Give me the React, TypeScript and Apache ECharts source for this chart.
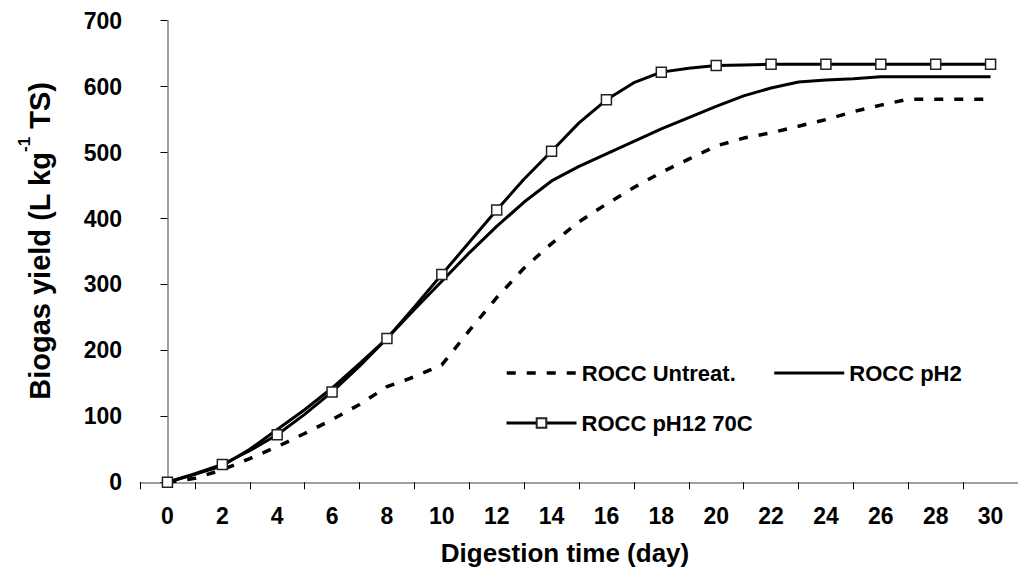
import React, { useEffect, useRef } from "react";
import * as echarts from "echarts";

const tickLabels = ["0", "2", "4", "6", "8", "10", "12", "14", "16", "18", "20", "22", "24", "26", "28", "30"];
const days = [0, 1, 2, 3, 4, 5, 6, 7, 8, 9, 10, 11, 12, 13, 14, 15, 16, 17, 18, 19, 20, 21, 22, 23, 24, 25, 26, 27, 28, 29, 30];
const untreated = [0, 6, 19, 36, 54, 74, 95, 118, 145, 160, 178, 230, 280, 325, 362, 395, 422, 447, 470, 490, 510, 522, 530, 540, 550, 562, 572, 581, 581, 581, 581];
const ph2 = [0, 12, 25, 50, 80, 110, 143, 180, 218, 262, 305, 348, 388, 425, 457, 479, 498, 517, 536, 553, 570, 586, 598, 607, 610, 612, 615, 615, 615, 615, 615];
const ph12 = [0, 13, 27, 48, 72, 103, 137, 176, 218, 266, 315, 364, 413, 460, 502, 545, 580, 606, 622, 628, 632, 633, 634, 634, 634, 634, 634, 634, 634, 634, 634];

const FONT = '"Liberation Sans", Arial, sans-serif';

export default function App() {
  const ref = useRef<HTMLDivElement>(null);
  useEffect(() => {
    const chart = echarts.init(ref.current!, null, { renderer: "svg" });
    const pair = (arr: number[]) => days.map((d, i) => [d, arr[i]]);
    const legendText = { color: "#000", fontSize: 22, fontWeight: "bold", fontFamily: FONT };
    chart.setOption({
      animation: false,
      backgroundColor: "#fff",
      grid: { left: 140, right: -11, top: 20.7, bottom: 92.7 },
      xAxis: [
        {
          type: "category",
          data: tickLabels,
          boundaryGap: true,
          axisLine: { lineStyle: { color: "#808080", width: 1.5 } },
          axisTick: { show: true, length: 7, alignWithLabel: false, lineStyle: { color: "#000", width: 1 } },
          axisLabel: { color: "#000", fontSize: 23, fontWeight: "bold", fontFamily: FONT, margin: 22, interval: 0 },
          splitLine: { show: false },
        },
        {
          type: "value",
          min: -1,
          max: 31,
          show: false,
          splitLine: { show: false },
        },
      ],
      yAxis: {
        type: "value",
        min: 0,
        max: 700,
        interval: 100,
        axisLine: { show: true, lineStyle: { color: "#808080", width: 1.5 } },
        axisTick: { show: true, length: 7, lineStyle: { color: "#000", width: 1 } },
        axisLabel: { color: "#000", fontSize: 23, fontWeight: "bold", fontFamily: FONT, margin: 18 },
        splitLine: { show: false },
      },
      legend: [
        {
          data: [
            { name: "ROCC Untreat.", itemStyle: { opacity: 0 }, lineStyle: { width: 3.5 } },
            { name: "ROCC pH2", itemStyle: { opacity: 0 }, lineStyle: { width: 3 } },
          ],
          left: 505,
          top: 362,
          padding: 0,
          itemWidth: 70,
          itemHeight: 12,
          itemGap: 37,
          lineStyle: { width: 3 },
          textStyle: legendText,
        },
        {
          data: ["ROCC pH12 70C"],
          left: 505,
          top: 412,
          padding: 0,
          itemWidth: 70,
          itemHeight: 12,
          lineStyle: { width: 3 },
          textStyle: legendText,
        },
      ],
      graphic: [
        {
          type: "text",
          x: 565,
          y: 553,
          style: {
            text: "Digestion time (day)",
            fill: "#000",
            font: `bold 26px ${FONT}`,
            align: "center",
            verticalAlign: "middle",
          },
        },
        {
          type: "text",
          x: 35,
          y: 241,
          rotation: Math.PI / 2,
          style: {
            text: "{n|Biogas yield (L kg}{s|-1}{n| TS)}",
            align: "center",
            verticalAlign: "middle",
            fill: "#000",
            rich: {
              n: { fontSize: 29, fontWeight: "bold", fontFamily: FONT, lineHeight: 39, verticalAlign: "bottom", fill: "#000" },
              s: { fontSize: 17, fontWeight: "bold", fontFamily: FONT, lineHeight: 17, verticalAlign: "top", fill: "#000" },
            },
          },
        },
      ],
      series: [
        {
          name: "ROCC Untreat.",
          type: "line",
          xAxisIndex: 1,
          data: pair(untreated),
          symbol: "none",
          lineStyle: { color: "#000", width: 3.5, type: [9, 11] },
          itemStyle: { color: "#000" },
        },
        {
          name: "ROCC pH2",
          type: "line",
          xAxisIndex: 1,
          data: pair(ph2),
          symbol: "none",
          lineStyle: { color: "#000", width: 3 },
          itemStyle: { color: "#000" },
        },
        {
          name: "ROCC pH12 70C",
          type: "line",
          xAxisIndex: 1,
          showAllSymbol: true,
          symbol: "rect",
          symbolSize: 10,
          data: days.map((d, i) => ({ value: [d, ph12[i]], symbol: d % 2 === 0 ? "rect" : "none" })),
          lineStyle: { color: "#000", width: 3 },
          itemStyle: { color: "#fff", borderColor: "#222", borderWidth: 1.5 },
        },
      ],
    });
    return () => chart.dispose();
  }, []);
  return <div ref={ref} style={{ position: "fixed", left: 0, top: 0, width: 1018, height: 575 }} />;
}
